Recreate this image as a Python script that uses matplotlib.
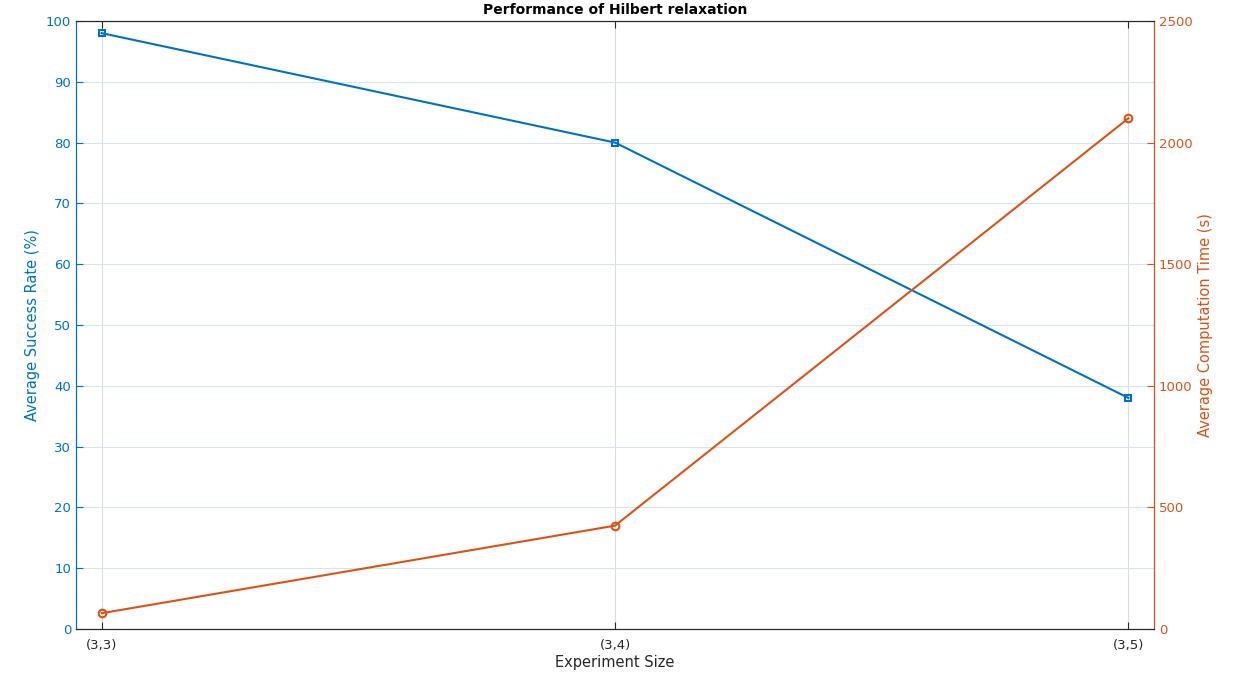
import matplotlib
matplotlib.use("Agg")
import matplotlib.pyplot as plt

categories = ["(3,3)", "(3,4)", "(3,5)"]
success_rate = [98, 80, 38]
comp_time = [65, 425, 2100]

BLUE = "#0072BD"
ORANGE = "#D95319"

plt.rcParams['font.family'] = ['DejaVu Sans']
fig = plt.figure(figsize=(12.33, 6.76), dpi=100)
ax = fig.add_axes([0.0616, 0.0695, 0.8744, 0.8995])
x = list(range(len(categories)))

ax.plot(x, success_rate, color=BLUE, lw=1.5, marker='s', ms=5,
        mfc='none', mec=BLUE, mew=1.5, zorder=3)
ax.set_xlim(-0.05, 2.05)
ax.set_ylim(0, 100)
ax.set_yticks(range(0, 101, 10))
ax.set_xticks(x)
ax.set_xticklabels(categories)
ax.set_xlabel("Experiment Size", fontsize=10.5, color='#262626', labelpad=2)
ax.set_ylabel("Average Success Rate (%)", fontsize=10.5, color=BLUE)
ax.set_title("Performance of Hilbert relaxation", fontsize=10, fontweight='bold', pad=5)

ax.yaxis.grid(True, color='#d6e4ef', lw=0.8)
ax.xaxis.grid(True, color='#dcdcdc', lw=0.8)
ax.set_axisbelow(True)
ax.tick_params(axis='y', colors=BLUE, direction='in', length=5, labelsize=9.5)
ax.tick_params(axis='x', colors='#262626', direction='in', length=5, labelsize=9.5,
               top=True, pad=7)
for s in ['top', 'bottom']:
    ax.spines[s].set_color('#262626')
ax.spines['left'].set_color(BLUE)

ax2 = ax.twinx()
ax2.plot(x, comp_time, color=ORANGE, lw=1.5, marker='o', ms=5.5,
         mfc='none', mec=ORANGE, mew=1.5, zorder=3)
ax2.set_ylim(0, 2500)
ax2.set_yticks(range(0, 2501, 500))
ax2.set_ylabel("Average Computation Time (s)", fontsize=10.5, color=ORANGE)
ax2.tick_params(axis='y', colors=ORANGE, direction='in', length=5, labelsize=9.5)
ax2.spines['right'].set_color(ORANGE)
ax2.spines['left'].set_color(BLUE)
ax2.spines['top'].set_color('#262626')
ax2.spines['bottom'].set_color('#262626')

fig.savefig("out.png", dpi=100)
